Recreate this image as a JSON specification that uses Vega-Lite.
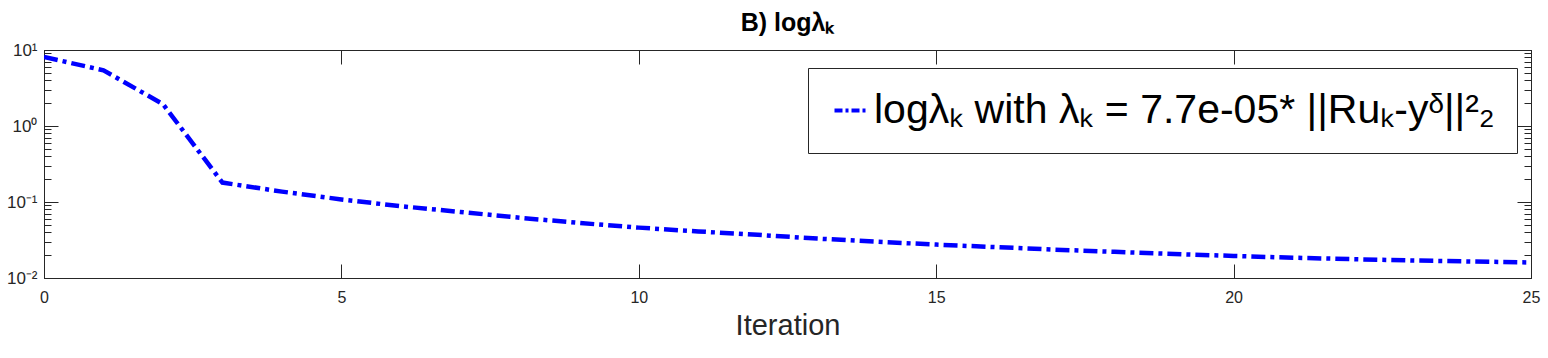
{
  "$schema": "https://vega.github.io/schema/vega-lite/v6.json",
  "autosize": "none",
  "padding": {"left": 44, "top": 50, "right": 17, "bottom": 80},
  "width": 1487,
  "height": 228,
  "background": "white",
  "config": {
    "font": "Liberation Sans",
    "view": {"stroke": "#262626", "strokeWidth": 1}
  },
  "title": {
    "text": "B) logλₖ",
    "fontSize": 25,
    "fontWeight": "bold",
    "color": "#000000",
    "font": "Liberation Sans",
    "anchor": "middle",
    "offset": 5
  },
  "data": {
    "values": [
      {"iter": 0, "lam": 8.1, "series": "s"},
      {"iter": 1, "lam": 5.4, "series": "s"},
      {"iter": 2, "lam": 1.94, "series": "s"},
      {"iter": 3, "lam": 0.18, "series": "s"},
      {"iter": 4, "lam": 0.137, "series": "s"},
      {"iter": 5, "lam": 0.108, "series": "s"},
      {"iter": 6, "lam": 0.088, "series": "s"},
      {"iter": 7, "lam": 0.074, "series": "s"},
      {"iter": 8, "lam": 0.062, "series": "s"},
      {"iter": 9, "lam": 0.053, "series": "s"},
      {"iter": 10, "lam": 0.046, "series": "s"},
      {"iter": 11, "lam": 0.041, "series": "s"},
      {"iter": 12, "lam": 0.037, "series": "s"},
      {"iter": 13, "lam": 0.033, "series": "s"},
      {"iter": 14, "lam": 0.030, "series": "s"},
      {"iter": 15, "lam": 0.0275, "series": "s"},
      {"iter": 16, "lam": 0.0255, "series": "s"},
      {"iter": 17, "lam": 0.0236, "series": "s"},
      {"iter": 18, "lam": 0.0221, "series": "s"},
      {"iter": 19, "lam": 0.0207, "series": "s"},
      {"iter": 20, "lam": 0.0195, "series": "s"},
      {"iter": 21, "lam": 0.0185, "series": "s"},
      {"iter": 22, "lam": 0.0177, "series": "s"},
      {"iter": 23, "lam": 0.0170, "series": "s"},
      {"iter": 24, "lam": 0.0165, "series": "s"},
      {"iter": 25, "lam": 0.0160, "series": "s"}
    ]
  },
  "layer": [
    {
      "mark": {"type": "line", "strokeWidth": 4.5, "strokeDash": [14, 5, 4, 5], "clip": true},
      "encoding": {
        "x": {
          "field": "iter", "type": "quantitative",
          "scale": {"domain": [0, 25], "nice": false, "zero": false},
          "axis": {
            "orient": "bottom",
            "title": "Iteration",
            "titleFontSize": 29,
            "titleFontWeight": "normal",
            "titleColor": "#262626",
            "titlePadding": 6,
            "values": [0, 5, 10, 15, 20, 25],
            "tickSize": -14,
            "tickColor": "#262626",
            "domainColor": "#262626",
            "labelColor": "#262626",
            "labelFontSize": 16,
            "labelPadding": 25,
            "grid": false,
            "labelFlush": false,
            "labelOverlap": false
          }
        },
        "y": {
          "field": "lam", "type": "quantitative",
          "scale": {"type": "log", "domain": [0.01, 10], "nice": false},
          "axis": {
            "orient": "left",
            "title": null,
            "values": [0.01, 0.02, 0.03, 0.04, 0.05, 0.06, 0.07, 0.08, 0.09, 0.1, 0.2, 0.3, 0.4, 0.5, 0.6, 0.7, 0.8, 0.9, 1, 2, 3, 4, 5, 6, 7, 8, 9, 10],
            "tickSize": {"condition": {"test": "abs(log(datum.value)/LN10 - round(log(datum.value)/LN10)) < 0.001", "value": -14}, "value": -7},
            "labelExpr": "datum.value == 10 ? '10¹' : datum.value == 1 ? '10⁰' : datum.value == 0.1 ? '10⁻¹' : datum.value == 0.01 ? '10⁻²' : ''",
            "tickColor": "#262626",
            "domainColor": "#262626",
            "labelColor": "#262626",
            "labelFontSize": 17,
            "labelPadding": 21,
            "grid": false,
            "labelFlush": false,
            "labelOverlap": false,
            "labelBound": false
          }
        },
        "color": {
          "field": "series", "type": "nominal",
          "scale": {"range": ["#0000FF"]},
          "legend": {
            "orient": "none",
            "legendX": 764,
            "legendY": 18,
            "title": null,
            "labelExpr": "'logλₖ with λₖ = 7.7e-05* ||Ruₖ-yᵟ||²₂'",
            "labelFontSize": 41,
            "labelFont": "Liberation Sans",
            "labelColor": "#000000",
            "labelLimit": 0,
            "symbolType": "stroke",
            "symbolStrokeWidth": 4,
            "symbolDash": [8, 3, 3, 3],
            "symbolSize": 1024,
            "symbolStrokeColor": "#0000FF",
            "strokeColor": "#262626",
            "fillColor": "white",
            "padding": 22,
            "labelOffset": 3
          }
        }
      }
    },
    {
      "mark": {"type": "line", "opacity": 0},
      "encoding": {
        "x": {
          "field": "iter", "type": "quantitative",
          "axis": {
            "orient": "top", "title": null, "labels": false,
            "values": [0, 5, 10, 15, 20, 25],
            "tickSize": -14, "tickColor": "#262626", "domainColor": "#262626", "grid": false
          }
        },
        "y": {
          "field": "lam", "type": "quantitative",
          "axis": {
            "orient": "right", "title": null, "labels": false,
            "values": [0.01, 0.02, 0.03, 0.04, 0.05, 0.06, 0.07, 0.08, 0.09, 0.1, 0.2, 0.3, 0.4, 0.5, 0.6, 0.7, 0.8, 0.9, 1, 2, 3, 4, 5, 6, 7, 8, 9, 10],
            "tickSize": {"condition": {"test": "abs(log(datum.value)/LN10 - round(log(datum.value)/LN10)) < 0.001", "value": -14}, "value": -7},
            "tickColor": "#262626", "domainColor": "#262626", "grid": false
          }
        }
      }
    }
  ],
  "resolve": {"axis": {"x": "independent", "y": "independent"}}
}
